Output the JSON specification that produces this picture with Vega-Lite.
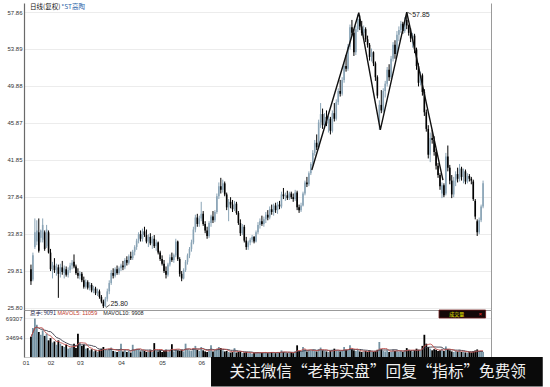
{
  "$schema": "https://vega.github.io/schema/vega-lite/v6.json",
  "background": "white",
  "padding": {"left": 5, "top": 3, "right": 0, "bottom": 0},
  "config": {
    "view": {"stroke": null},
    "font": "Liberation Sans",
    "axis": {"labelFont": "Liberation Sans", "labelFontSize": 6, "labelColor": "#333333", "labelOverlap": false}
  },
  "datasets": {
    "k": [
      {"i":0,"o":30.0,"h":30.5,"l":28.3,"c":28.7,"v":36000},
      {"i":1,"o":28.9,"h":31.8,"l":28.7,"c":31.5,"v":52000},
      {"i":2,"o":32.4,"h":35.5,"l":32.2,"c":34.0,"v":69307},
      {"i":3,"o":33.0,"h":35.3,"l":32.6,"c":34.2,"v":58000},
      {"i":4,"o":34.0,"h":35.5,"l":31.8,"c":32.0,"v":45000},
      {"i":5,"o":33.4,"h":34.3,"l":32.9,"c":34.2,"v":40000},
      {"i":6,"o":33.2,"h":35.5,"l":32.9,"c":34.8,"v":48000},
      {"i":7,"o":34.0,"h":34.2,"l":32.0,"c":32.2,"v":38000},
      {"i":8,"o":32.5,"h":34.8,"l":32.3,"c":34.3,"v":42000},
      {"i":9,"o":34.0,"h":34.2,"l":31.7,"c":31.8,"v":30000},
      {"i":10,"o":31.8,"h":32.2,"l":29.8,"c":30.0,"v":34000},
      {"i":11,"o":30.2,"h":30.8,"l":29.0,"c":30.5,"v":26000},
      {"i":12,"o":30.4,"h":31.2,"l":29.6,"c":29.9,"v":28000},
      {"i":13,"o":29.9,"h":30.6,"l":29.3,"c":30.3,"v":22000},
      {"i":14,"o":30.2,"h":30.5,"l":26.9,"c":29.5,"v":30000},
      {"i":15,"o":29.5,"h":30.6,"l":29.1,"c":30.2,"v":24000},
      {"i":16,"o":30.2,"h":30.9,"l":29.4,"c":29.7,"v":20000},
      {"i":17,"o":29.6,"h":30.4,"l":29.0,"c":30.1,"v":18000},
      {"i":18,"o":30.0,"h":30.3,"l":29.2,"c":29.4,"v":22000},
      {"i":19,"o":29.4,"h":30.2,"l":29.1,"c":29.9,"v":15000},
      {"i":20,"o":29.9,"h":30.7,"l":29.6,"c":30.4,"v":17000},
      {"i":21,"o":30.4,"h":31.0,"l":30.0,"c":30.7,"v":19000},
      {"i":22,"o":30.8,"h":31.6,"l":30.1,"c":30.3,"v":24000},
      {"i":23,"o":30.3,"h":30.5,"l":29.4,"c":29.6,"v":16000},
      {"i":24,"o":29.6,"h":30.1,"l":29.0,"c":29.3,"v":42000},
      {"i":25,"o":29.3,"h":29.8,"l":28.9,"c":29.5,"v":26000},
      {"i":26,"o":29.5,"h":29.7,"l":28.6,"c":28.8,"v":20000},
      {"i":27,"o":28.8,"h":29.2,"l":27.9,"c":28.1,"v":22000},
      {"i":28,"o":28.1,"h":28.9,"l":27.9,"c":28.6,"v":15000},
      {"i":29,"o":28.6,"h":28.8,"l":27.8,"c":28.0,"v":16000},
      {"i":30,"o":28.0,"h":28.6,"l":27.7,"c":28.3,"v":12000},
      {"i":31,"o":28.3,"h":28.5,"l":27.5,"c":27.7,"v":14000},
      {"i":32,"o":27.7,"h":28.2,"l":27.4,"c":27.9,"v":10000},
      {"i":33,"o":27.9,"h":28.1,"l":27.2,"c":27.4,"v":12000},
      {"i":34,"o":27.4,"h":27.9,"l":27.1,"c":27.6,"v":9000},
      {"i":35,"o":27.6,"h":27.8,"l":26.8,"c":27.0,"v":13000},
      {"i":36,"o":27.0,"h":27.2,"l":26.3,"c":26.5,"v":15000},
      {"i":37,"o":26.5,"h":26.7,"l":25.80,"c":26.0,"v":18000},
      {"i":38,"o":26.0,"h":27.0,"l":25.9,"c":26.8,"v":14000},
      {"i":39,"o":26.8,"h":27.9,"l":26.5,"c":27.6,"v":12000},
      {"i":40,"o":27.6,"h":28.8,"l":27.3,"c":28.5,"v":15000},
      {"i":41,"o":28.5,"h":29.9,"l":28.3,"c":29.6,"v":17000},
      {"i":42,"o":29.6,"h":30.1,"l":29.0,"c":29.3,"v":11000},
      {"i":43,"o":29.3,"h":30.2,"l":29.1,"c":30.0,"v":10000},
      {"i":44,"o":30.0,"h":30.4,"l":29.4,"c":29.6,"v":9000},
      {"i":45,"o":29.6,"h":30.3,"l":29.4,"c":30.1,"v":11000},
      {"i":46,"o":30.1,"h":30.6,"l":29.8,"c":30.4,"v":24000},
      {"i":47,"o":30.4,"h":30.9,"l":29.9,"c":30.2,"v":10000},
      {"i":48,"o":30.2,"h":31.2,"l":30.0,"c":31.0,"v":12000},
      {"i":49,"o":31.0,"h":31.4,"l":30.4,"c":30.7,"v":9000},
      {"i":50,"o":30.7,"h":31.6,"l":30.5,"c":31.4,"v":11000},
      {"i":51,"o":31.4,"h":31.9,"l":31.0,"c":31.2,"v":8000},
      {"i":52,"o":31.2,"h":32.1,"l":31.0,"c":31.9,"v":22000},
      {"i":53,"o":31.9,"h":32.6,"l":31.5,"c":32.4,"v":13000},
      {"i":54,"o":32.4,"h":33.3,"l":32.1,"c":33.1,"v":15000},
      {"i":55,"o":33.1,"h":34.0,"l":32.8,"c":33.8,"v":14000},
      {"i":56,"o":33.8,"h":34.2,"l":33.0,"c":33.3,"v":10000},
      {"i":57,"o":33.3,"h":34.4,"l":33.0,"c":34.1,"v":12000},
      {"i":58,"o":34.1,"h":34.6,"l":33.5,"c":33.7,"v":11000},
      {"i":59,"o":33.7,"h":34.3,"l":32.8,"c":33.0,"v":9000},
      {"i":60,"o":33.0,"h":33.8,"l":32.4,"c":33.5,"v":10000},
      {"i":61,"o":33.5,"h":33.9,"l":32.6,"c":32.8,"v":12000},
      {"i":62,"o":32.8,"h":33.6,"l":32.2,"c":33.3,"v":9000},
      {"i":63,"o":33.3,"h":33.7,"l":32.3,"c":32.5,"v":25000},
      {"i":64,"o":32.5,"h":33.2,"l":32.0,"c":32.9,"v":11000},
      {"i":65,"o":32.9,"h":33.0,"l":31.6,"c":31.8,"v":10000},
      {"i":66,"o":31.8,"h":32.0,"l":30.9,"c":31.1,"v":12000},
      {"i":67,"o":31.1,"h":31.5,"l":30.4,"c":30.6,"v":9000},
      {"i":68,"o":30.6,"h":31.0,"l":29.6,"c":29.8,"v":11000},
      {"i":69,"o":29.8,"h":30.3,"l":29.0,"c":29.4,"v":13000},
      {"i":70,"o":29.4,"h":30.7,"l":29.2,"c":30.5,"v":10000},
      {"i":71,"o":30.5,"h":31.6,"l":30.3,"c":31.3,"v":12000},
      {"i":72,"o":31.3,"h":31.8,"l":30.8,"c":31.0,"v":23000},
      {"i":73,"o":31.0,"h":31.7,"l":30.7,"c":31.5,"v":10000},
      {"i":74,"o":31.5,"h":33.3,"l":31.3,"c":33.0,"v":14000},
      {"i":75,"o":33.0,"h":33.1,"l":30.9,"c":31.1,"v":12000},
      {"i":76,"o":31.1,"h":31.3,"l":29.2,"c":29.5,"v":11000},
      {"i":77,"o":29.5,"h":29.8,"l":28.7,"c":29.0,"v":13000},
      {"i":78,"o":29.0,"h":30.1,"l":28.9,"c":29.9,"v":10000},
      {"i":79,"o":29.9,"h":31.0,"l":29.7,"c":30.8,"v":24000},
      {"i":80,"o":30.8,"h":31.7,"l":30.5,"c":31.5,"v":14000},
      {"i":81,"o":31.5,"h":32.4,"l":31.2,"c":32.2,"v":12000},
      {"i":82,"o":32.2,"h":33.2,"l":31.9,"c":32.9,"v":11000},
      {"i":83,"o":32.9,"h":34.6,"l":32.7,"c":34.3,"v":16000},
      {"i":84,"o":34.3,"h":35.9,"l":34.0,"c":35.6,"v":20000},
      {"i":85,"o":35.6,"h":36.0,"l":34.6,"c":34.9,"v":13000},
      {"i":86,"o":34.9,"h":35.8,"l":34.6,"c":35.5,"v":11000},
      {"i":87,"o":35.5,"h":37.3,"l":35.2,"c":36.0,"v":18000},
      {"i":88,"o":36.0,"h":36.3,"l":34.7,"c":34.9,"v":12000},
      {"i":89,"o":34.9,"h":35.2,"l":33.9,"c":34.2,"v":10000},
      {"i":90,"o":34.2,"h":34.6,"l":33.3,"c":33.6,"v":9000},
      {"i":91,"o":33.6,"h":35.2,"l":33.4,"c":35.0,"v":12000},
      {"i":92,"o":35.0,"h":35.9,"l":34.6,"c":35.7,"v":21000},
      {"i":93,"o":35.7,"h":36.3,"l":35.0,"c":35.3,"v":10000},
      {"i":94,"o":35.3,"h":36.4,"l":35.1,"c":36.2,"v":12000},
      {"i":95,"o":36.2,"h":38.2,"l":36.0,"c":37.9,"v":15000},
      {"i":96,"o":37.9,"h":39.4,"l":37.6,"c":39.0,"v":18000},
      {"i":97,"o":39.0,"h":39.9,"l":38.2,"c":38.6,"v":16000},
      {"i":98,"o":38.6,"h":39.7,"l":38.3,"c":39.3,"v":12000},
      {"i":99,"o":39.3,"h":39.5,"l":37.9,"c":38.1,"v":10000},
      {"i":100,"o":38.1,"h":38.3,"l":36.4,"c":36.7,"v":11000},
      {"i":101,"o":36.7,"h":37.6,"l":35.2,"c":37.3,"v":9000},
      {"i":102,"o":37.3,"h":37.8,"l":36.6,"c":37.0,"v":8000},
      {"i":103,"o":37.0,"h":37.5,"l":36.2,"c":36.5,"v":9000},
      {"i":104,"o":36.5,"h":37.4,"l":36.3,"c":37.1,"v":16000},
      {"i":105,"o":37.1,"h":37.3,"l":35.9,"c":36.1,"v":8000},
      {"i":106,"o":36.1,"h":36.3,"l":34.8,"c":35.0,"v":9000},
      {"i":107,"o":35.0,"h":35.4,"l":33.6,"c":33.9,"v":10000},
      {"i":108,"o":33.9,"h":34.9,"l":33.7,"c":34.6,"v":7000},
      {"i":109,"o":34.6,"h":34.8,"l":32.9,"c":33.1,"v":8000},
      {"i":110,"o":33.1,"h":33.5,"l":32.1,"c":32.4,"v":9000},
      {"i":111,"o":32.4,"h":33.1,"l":32.1,"c":32.9,"v":7000},
      {"i":112,"o":32.9,"h":33.4,"l":32.6,"c":33.2,"v":8000},
      {"i":113,"o":33.2,"h":33.7,"l":32.9,"c":33.5,"v":6000},
      {"i":114,"o":33.5,"h":33.6,"l":32.8,"c":33.0,"v":7000},
      {"i":115,"o":33.0,"h":34.2,"l":32.9,"c":34.0,"v":8000},
      {"i":116,"o":34.0,"h":35.1,"l":33.8,"c":34.8,"v":9000},
      {"i":117,"o":34.8,"h":35.5,"l":34.4,"c":35.2,"v":8000},
      {"i":118,"o":35.2,"h":35.8,"l":34.7,"c":34.9,"v":7000},
      {"i":119,"o":34.9,"h":35.7,"l":34.6,"c":35.4,"v":8000},
      {"i":120,"o":35.4,"h":36.2,"l":35.0,"c":35.9,"v":9000},
      {"i":121,"o":35.9,"h":36.4,"l":35.3,"c":35.6,"v":7000},
      {"i":122,"o":35.6,"h":36.8,"l":35.4,"c":36.5,"v":8000},
      {"i":123,"o":36.5,"h":37.0,"l":35.9,"c":36.2,"v":9000},
      {"i":124,"o":36.2,"h":37.1,"l":35.8,"c":36.9,"v":8000},
      {"i":125,"o":36.9,"h":37.2,"l":36.1,"c":36.4,"v":7000},
      {"i":126,"o":36.4,"h":37.3,"l":36.0,"c":37.0,"v":9000},
      {"i":127,"o":37.0,"h":37.4,"l":36.5,"c":36.8,"v":8000},
      {"i":128,"o":36.8,"h":38.4,"l":36.6,"c":38.1,"v":12000},
      {"i":129,"o":38.1,"h":38.8,"l":37.6,"c":37.9,"v":9000},
      {"i":130,"o":37.9,"h":38.3,"l":37.4,"c":38.0,"v":8000},
      {"i":131,"o":38.0,"h":38.5,"l":37.5,"c":37.7,"v":7000},
      {"i":132,"o":37.7,"h":38.4,"l":37.5,"c":38.2,"v":8000},
      {"i":133,"o":38.2,"h":38.4,"l":37.6,"c":37.8,"v":9000},
      {"i":134,"o":37.8,"h":38.2,"l":37.3,"c":37.6,"v":7000},
      {"i":135,"o":37.6,"h":38.6,"l":37.4,"c":38.3,"v":10000},
      {"i":136,"o":38.3,"h":38.5,"l":36.4,"c":36.7,"v":21000},
      {"i":137,"o":36.7,"h":37.0,"l":36.1,"c":36.4,"v":11000},
      {"i":138,"o":36.4,"h":37.2,"l":36.2,"c":36.9,"v":9000},
      {"i":139,"o":36.9,"h":38.4,"l":36.8,"c":38.2,"v":18000},
      {"i":140,"o":38.2,"h":39.6,"l":38.0,"c":39.4,"v":14000},
      {"i":141,"o":39.4,"h":40.0,"l":38.9,"c":39.2,"v":10000},
      {"i":142,"o":39.2,"h":40.6,"l":39.0,"c":40.4,"v":12000},
      {"i":143,"o":40.4,"h":41.6,"l":40.2,"c":41.4,"v":11000},
      {"i":144,"o":41.4,"h":42.9,"l":41.2,"c":42.6,"v":13000},
      {"i":145,"o":42.6,"h":44.0,"l":42.3,"c":43.7,"v":12000},
      {"i":146,"o":43.7,"h":44.6,"l":42.9,"c":43.2,"v":10000},
      {"i":147,"o":43.2,"h":46.2,"l":43.0,"c":45.9,"v":14000},
      {"i":148,"o":45.9,"h":48.0,"l":45.3,"c":46.8,"v":17000},
      {"i":149,"o":46.8,"h":47.4,"l":45.2,"c":45.6,"v":12000},
      {"i":150,"o":45.6,"h":46.9,"l":45.2,"c":46.5,"v":11000},
      {"i":151,"o":46.5,"h":47.2,"l":45.5,"c":45.8,"v":10000},
      {"i":152,"o":45.8,"h":46.6,"l":44.8,"c":46.3,"v":9000},
      {"i":153,"o":46.3,"h":46.5,"l":44.6,"c":45.0,"v":11000},
      {"i":154,"o":45.0,"h":47.2,"l":44.8,"c":46.9,"v":13000},
      {"i":155,"o":46.9,"h":48.0,"l":46.0,"c":46.3,"v":15000},
      {"i":156,"o":46.3,"h":48.4,"l":46.1,"c":48.1,"v":12000},
      {"i":157,"o":48.1,"h":49.6,"l":47.8,"c":49.3,"v":11000},
      {"i":158,"o":49.3,"h":50.5,"l":48.7,"c":49.0,"v":10000},
      {"i":159,"o":49.0,"h":50.8,"l":48.8,"c":50.5,"v":12000},
      {"i":160,"o":50.5,"h":52.4,"l":50.2,"c":52.0,"v":18000},
      {"i":161,"o":52.0,"h":53.2,"l":51.4,"c":51.7,"v":13000},
      {"i":162,"o":51.7,"h":54.4,"l":51.5,"c":54.1,"v":12000},
      {"i":163,"o":54.1,"h":56.5,"l":53.8,"c":56.2,"v":21000},
      {"i":164,"o":56.2,"h":57.0,"l":55.3,"c":55.6,"v":14000},
      {"i":165,"o":55.6,"h":56.0,"l":53.1,"c":53.5,"v":12000},
      {"i":166,"o":53.5,"h":56.4,"l":53.2,"c":56.0,"v":11000},
      {"i":167,"o":56.0,"h":57.6,"l":55.7,"c":57.1,"v":13000},
      {"i":168,"o":57.1,"h":57.5,"l":55.9,"c":56.3,"v":10000},
      {"i":169,"o":56.3,"h":56.9,"l":55.3,"c":55.6,"v":9000},
      {"i":170,"o":55.6,"h":56.4,"l":55.2,"c":56.0,"v":10000},
      {"i":171,"o":56.0,"h":56.2,"l":54.6,"c":54.9,"v":11000},
      {"i":172,"o":54.9,"h":55.3,"l":54.0,"c":54.3,"v":9000},
      {"i":173,"o":54.3,"h":54.5,"l":52.6,"c":53.0,"v":12000},
      {"i":174,"o":53.0,"h":53.9,"l":52.5,"c":53.5,"v":10000},
      {"i":175,"o":53.5,"h":53.6,"l":52.0,"c":52.3,"v":9000},
      {"i":176,"o":52.3,"h":52.5,"l":50.4,"c":50.8,"v":11000},
      {"i":177,"o":50.8,"h":51.0,"l":48.5,"c":48.8,"v":13000},
      {"i":178,"o":46.0,"h":48.3,"l":45.1,"c":47.8,"v":27000},
      {"i":179,"o":47.8,"h":49.4,"l":46.9,"c":47.2,"v":14000},
      {"i":180,"o":47.2,"h":49.6,"l":47.0,"c":49.3,"v":11000},
      {"i":181,"o":49.3,"h":50.4,"l":48.6,"c":50.1,"v":10000},
      {"i":182,"o":50.1,"h":51.9,"l":49.8,"c":51.6,"v":12000},
      {"i":183,"o":51.6,"h":52.2,"l":50.4,"c":50.8,"v":9000},
      {"i":184,"o":50.8,"h":53.1,"l":50.6,"c":52.8,"v":10000},
      {"i":185,"o":52.8,"h":54.6,"l":52.5,"c":54.3,"v":13000},
      {"i":186,"o":54.3,"h":54.8,"l":52.8,"c":53.3,"v":11000},
      {"i":187,"o":53.3,"h":55.8,"l":53.1,"c":55.4,"v":12000},
      {"i":188,"o":55.4,"h":56.3,"l":54.7,"c":55.9,"v":10000},
      {"i":189,"o":55.9,"h":56.9,"l":55.6,"c":56.6,"v":11000},
      {"i":190,"o":56.6,"h":56.8,"l":55.5,"c":55.8,"v":9000},
      {"i":191,"o":55.8,"h":57.3,"l":55.6,"c":57.0,"v":12000},
      {"i":192,"o":57.0,"h":57.85,"l":56.0,"c":56.4,"v":16000},
      {"i":193,"o":56.4,"h":56.5,"l":55.3,"c":55.6,"v":13000},
      {"i":194,"o":55.6,"h":56.1,"l":54.6,"c":55.0,"v":11000},
      {"i":195,"o":55.0,"h":55.6,"l":54.0,"c":55.3,"v":10000},
      {"i":196,"o":55.3,"h":55.5,"l":53.4,"c":53.8,"v":12000},
      {"i":197,"o":53.8,"h":54.0,"l":51.6,"c":52.0,"v":15000},
      {"i":198,"o":52.0,"h":52.3,"l":49.8,"c":50.2,"v":13000},
      {"i":199,"o":50.2,"h":51.4,"l":49.9,"c":51.0,"v":11000},
      {"i":200,"o":51.0,"h":51.2,"l":48.8,"c":49.2,"v":20000},
      {"i":201,"o":49.2,"h":49.5,"l":46.6,"c":47.0,"v":40000},
      {"i":202,"o":47.0,"h":47.3,"l":44.9,"c":45.2,"v":24000},
      {"i":203,"o":45.2,"h":45.6,"l":42.0,"c":42.4,"v":18000},
      {"i":204,"o":42.4,"h":44.8,"l":41.6,"c":44.2,"v":15000},
      {"i":205,"o":44.2,"h":45.1,"l":43.6,"c":44.0,"v":12000},
      {"i":206,"o":44.0,"h":44.4,"l":42.3,"c":42.7,"v":14000},
      {"i":207,"o":42.7,"h":43.0,"l":40.8,"c":41.2,"v":13000},
      {"i":208,"o":41.2,"h":41.5,"l":39.9,"c":40.2,"v":11000},
      {"i":209,"o":40.2,"h":40.4,"l":38.6,"c":39.0,"v":12000},
      {"i":210,"o":38.2,"h":39.4,"l":37.7,"c":39.1,"v":15000},
      {"i":211,"o":39.1,"h":39.3,"l":37.8,"c":38.0,"v":11000},
      {"i":212,"o":38.2,"h":42.6,"l":38.0,"c":42.2,"v":19000},
      {"i":213,"o":42.2,"h":43.4,"l":40.6,"c":41.0,"v":14000},
      {"i":214,"o":41.0,"h":41.3,"l":39.2,"c":39.6,"v":12000},
      {"i":215,"o":39.6,"h":40.2,"l":37.7,"c":38.1,"v":10000},
      {"i":216,"o":38.1,"h":40.0,"l":37.8,"c":39.6,"v":9000},
      {"i":217,"o":39.6,"h":40.6,"l":39.0,"c":40.3,"v":11000},
      {"i":218,"o":40.3,"h":41.0,"l":39.4,"c":39.8,"v":10000},
      {"i":219,"o":39.8,"h":41.4,"l":39.5,"c":40.9,"v":13000},
      {"i":220,"o":40.9,"h":41.1,"l":39.6,"c":40.0,"v":9000},
      {"i":221,"o":40.0,"h":40.9,"l":39.3,"c":40.6,"v":10000},
      {"i":222,"o":40.6,"h":40.8,"l":39.2,"c":39.5,"v":8200},
      {"i":223,"o":39.5,"h":40.4,"l":39.3,"c":40.1,"v":7900},
      {"i":224,"o":40.1,"h":40.3,"l":39.5,"c":39.8,"v":9100},
      {"i":225,"o":39.8,"h":40.0,"l":39.2,"c":39.6,"v":8400},
      {"i":226,"o":39.5,"h":39.7,"l":37.4,"c":37.6,"v":10185},
      {"i":227,"o":37.4,"h":37.6,"l":35.4,"c":35.7,"v":11800},
      {"i":228,"o":35.2,"h":35.4,"l":33.6,"c":34.0,"v":13600},
      {"i":229,"o":34.0,"h":35.6,"l":33.8,"c":35.3,"v":10500},
      {"i":230,"o":35.3,"h":37.0,"l":35.1,"c":36.8,"v":10304},
      {"i":231,"o":36.8,"h":39.6,"l":36.6,"c":39.3,"v":9091}
    ],
    "trend": [
      {"i":143.5,"p":40.75},
      {"i":167.5,"p":57.78},
      {"i":178.5,"p":45.1},
      {"i":192,"p":57.85},
      {"i":210.5,"p":39.66}
    ]
  },
  "spacing": 0,
  "bounds": "flush",
  "vconcat": [
    {
      "width": 467,
      "height": 307,
      "data": {"name": "k"},
      "layer": [
        {
          "mark": {"type": "rule", "strokeWidth": 1},
          "encoding": {
            "x": {"field": "i", "type": "quantitative",
                  "scale": {"domain": [-1, 232.5], "nice": false, "zero": false},
                  "axis": {"orient": "bottom", "labels": false, "ticks": false, "grid": false, "title": null, "domainColor": "#9a9a9a", "domainWidth": 1}},
            "y": {"field": "l", "type": "quantitative",
                  "scale": {"domain": [25.583, 58.835], "nice": false, "zero": false},
                  "axis": {"orient": "left", "values": [25.80, 29.81, 33.83, 37.84, 41.85, 45.87, 49.88, 53.89, 57.86], "format": ".2f", "title": null,
                           "grid": true, "gridColor": "#ececec", "ticks": false, "labelPadding": 2, "domainColor": "#6a6a6a", "domainWidth": 1.2}},
            "y2": {"field": "h"},
            "color": {"condition": {"test": "datum.c >= datum.o", "value": "#8aa4b6"}, "value": "#000000"}
          }
        },
        {
          "mark": {"type": "bar", "width": 1.6},
          "encoding": {
            "x": {"field": "i", "type": "quantitative"},
            "y": {"field": "o", "type": "quantitative",
                  "axis": {"orient": "right", "labels": false, "ticks": false, "grid": false, "title": null, "domainColor": "#9a9a9a", "domainWidth": 1}},
            "y2": {"field": "c"},
            "color": {"condition": {"test": "datum.c >= datum.o", "value": "#8aa4b6"}, "value": "#000000"}
          }
        },
        {
          "data": {"name": "trend"},
          "mark": {"type": "line", "color": "#111111", "strokeWidth": 1.4},
          "encoding": {
            "x": {"field": "i", "type": "quantitative"},
            "y": {"field": "p", "type": "quantitative", "axis": null}
          }
        },
        {
          "data": {"values": [{}]},
          "mark": {"type": "text", "align": "left", "baseline": "middle", "font": "Noto Sans CJK SC", "fontSize": 6.5, "color": "#111111"},
          "encoding": {
            "x": {"datum": -0.5, "type": "quantitative"},
            "y": {"datum": 58.45, "type": "quantitative", "axis": null},
            "text": {"value": "日线(复权)"}
          }
        },
        {
          "data": {"values": [{}]},
          "mark": {"type": "text", "align": "left", "baseline": "middle", "font": "Noto Sans CJK SC", "fontSize": 6.5, "color": "#1f5fa8"},
          "encoding": {
            "x": {"datum": 15.5, "type": "quantitative"},
            "y": {"datum": 58.45, "type": "quantitative", "axis": null},
            "text": {"value": "*ST高陶"}
          }
        },
        {
          "data": {"values": [{}]},
          "mark": {"type": "rule", "color": "#333333", "strokeWidth": 0.8},
          "encoding": {
            "x": {"datum": 38.3, "type": "quantitative"},
            "x2": {"datum": 40.3},
            "y": {"datum": 25.85, "type": "quantitative", "axis": null},
            "y2": {"datum": 26.15}
          }
        },
        {
          "data": {"values": [{}]},
          "mark": {"type": "text", "align": "left", "baseline": "middle", "fontSize": 7, "color": "#222222"},
          "encoding": {
            "x": {"datum": 40.6, "type": "quantitative"},
            "y": {"datum": 26.2, "type": "quantitative", "axis": null},
            "text": {"value": "25.80"}
          }
        },
        {
          "data": {"values": [{}]},
          "mark": {"type": "rule", "color": "#333333", "strokeWidth": 0.8},
          "encoding": {
            "x": {"datum": 192.5, "type": "quantitative"},
            "x2": {"datum": 194.5},
            "y": {"datum": 57.82, "type": "quantitative", "axis": null},
            "y2": {"datum": 57.6}
          }
        },
        {
          "data": {"values": [{}]},
          "mark": {"type": "text", "align": "left", "baseline": "middle", "fontSize": 7, "color": "#222222"},
          "encoding": {
            "x": {"datum": 194.8, "type": "quantitative"},
            "y": {"datum": 57.54, "type": "quantitative", "axis": null},
            "text": {"value": "57.85"}
          }
        }
      ],
      "resolve": {"axis": {"y": "independent"}}
    },
    {
      "width": 467,
      "height": 47,
      "data": {"name": "k"},
      "layer": [
        {
          "mark": {"type": "bar", "width": 1.8},
          "encoding": {
            "x": {"field": "i", "type": "quantitative",
                  "scale": {"domain": [-1, 232.5], "nice": false, "zero": false},
                  "axis": {"orient": "bottom", "values": [-1, 10, 25, 46, 67, 87], "title": null, "ticks": false, "grid": false,
                           "labelFlush": false, "labelPadding": 2, "domainColor": "#c8c8c8",
                           "labelAlign": {"condition": {"test": "datum.value < 0", "value": "right"}, "value": "center"},
                           "labelExpr": "datum.value < 0 ? '01' : datum.value < 20 ? '02' : datum.value < 40 ? '03' : datum.value < 60 ? '04' : datum.value < 80 ? '05' : '06'"}},
            "y": {"field": "v", "type": "quantitative",
                  "scale": {"domain": [0, 84600], "nice": false, "zero": true},
                  "axis": {"orient": "left", "values": [34694, 69307], "format": "d", "title": null, "grid": true, "gridColor": "#ececec",
                           "ticks": false, "labelPadding": 2, "domainColor": "#6a6a6a", "domainWidth": 1.2}},
            "color": {"condition": {"test": "datum.c >= datum.o", "value": "#7593a3"}, "value": "#000000"}
          }
        },
        {
          "transform": [{"window": [{"op": "mean", "field": "v", "as": "m10"}], "frame": [-9, 0], "sort": [{"field": "i"}]}],
          "mark": {"type": "line", "color": "#3a3a48", "strokeWidth": 0.9},
          "encoding": {
            "x": {"field": "i", "type": "quantitative"},
            "y": {"field": "m10", "type": "quantitative", "axis": null}
          }
        },
        {
          "transform": [{"window": [{"op": "mean", "field": "v", "as": "m5"}], "frame": [-4, 0], "sort": [{"field": "i"}]}],
          "mark": {"type": "line", "color": "#c0504d", "strokeWidth": 0.9},
          "encoding": {
            "x": {"field": "i", "type": "quantitative"},
            "y": {"field": "m5", "type": "quantitative",
                  "axis": {"orient": "right", "labels": false, "ticks": false, "grid": false, "title": null, "domainColor": "#9a9a9a", "domainWidth": 1}}
          }
        },
        {
          "data": {"values": [{}]},
          "mark": {"type": "text", "align": "left", "baseline": "middle", "font": "Noto Sans CJK SC", "fontSize": 5.5, "color": "#1a1a4a"},
          "encoding": {
            "x": {"datum": -0.5, "type": "quantitative"},
            "y": {"datum": 79200, "type": "quantitative", "axis": null},
            "text": {"value": "总手: 9091"}
          }
        },
        {
          "data": {"values": [{}]},
          "mark": {"type": "text", "align": "left", "baseline": "middle", "fontSize": 5.5, "color": "#c0392b"},
          "encoding": {
            "x": {"datum": 13.5, "type": "quantitative"},
            "y": {"datum": 79200, "type": "quantitative", "axis": null},
            "text": {"value": "MAVOL5: 11059"}
          }
        },
        {
          "data": {"values": [{}]},
          "mark": {"type": "text", "align": "left", "baseline": "middle", "fontSize": 5.5, "color": "#222222"},
          "encoding": {
            "x": {"datum": 37, "type": "quantitative"},
            "y": {"datum": 79200, "type": "quantitative", "axis": null},
            "text": {"value": "MAVOL10: 9908"}
          }
        },
        {
          "data": {"values": [{}]},
          "mark": {"type": "rect", "fill": "#140808", "stroke": "#6e1c1c", "strokeWidth": 0.8},
          "encoding": {
            "x": {"datum": 208.5, "type": "quantitative"},
            "x2": {"datum": 232.3},
            "y": {"datum": 84600, "type": "quantitative", "axis": null},
            "y2": {"datum": 70200}
          }
        },
        {
          "data": {"values": [{}]},
          "mark": {"type": "text", "align": "center", "baseline": "middle", "font": "Noto Sans CJK SC", "fontSize": 5, "color": "#f2f200"},
          "encoding": {
            "x": {"datum": 217.5, "type": "quantitative"},
            "y": {"datum": 77400, "type": "quantitative", "axis": null},
            "text": {"value": "成交量"}
          }
        },
        {
          "data": {"values": [{}]},
          "mark": {"type": "text", "align": "center", "baseline": "middle", "fontSize": 6, "color": "#ff3030"},
          "encoding": {
            "x": {"datum": 229.5, "type": "quantitative"},
            "y": {"datum": 77400, "type": "quantitative", "axis": null},
            "text": {"value": "×"}
          }
        },
        {
          "data": {"values": [{}]},
          "mark": {"type": "rect", "fill": "#0a0a0a"},
          "encoding": {
            "x": {"datum": 92, "type": "quantitative"},
            "x2": {"datum": 261.5},
            "y": {"datum": 0, "type": "quantitative", "axis": null},
            "y2": {"datum": -53000}
          }
        },
        {
          "data": {"values": [{}]},
          "mark": {"type": "text", "align": "left", "baseline": "middle", "font": "Noto Sans CJK SC", "fontSize": 15.6, "color": "#f0f0f0"},
          "encoding": {
            "x": {"datum": 101.5, "type": "quantitative"},
            "y": {"datum": -27000, "type": "quantitative", "axis": null},
            "text": {"value": "关注微信“老韩实盘”回复“指标”免费领"}
          }
        }
      ],
      "resolve": {"axis": {"y": "independent"}}
    }
  ]
}
